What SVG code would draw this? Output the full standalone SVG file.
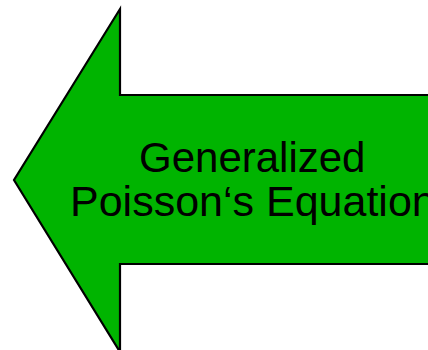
<svg xmlns="http://www.w3.org/2000/svg" width="428" height="350" viewBox="0 0 428 350">
  <style>
    .arrow { fill: #00b400; stroke: #000000; stroke-width: 2.2; stroke-linejoin: miter; }
    .label { font-family: "Liberation Sans", Arial, sans-serif; font-size: 42px; fill: #000000; }
  </style>
  <rect width="428" height="350" fill="#ffffff"/>
  <g id="arrow-node">
    <path class="arrow" d="M 440 95 L 120 95 L 120 9 L 14 180 L 120 352 L 120 264 L 440 264 Z"/>
    <text class="label" x="139" y="171.5">Generalized</text>
    <text class="label" x="70" y="215.5" style="font-size:43px">Poisson‘s Equation</text>
  </g>
  <g id="connectors"/>
</svg>
